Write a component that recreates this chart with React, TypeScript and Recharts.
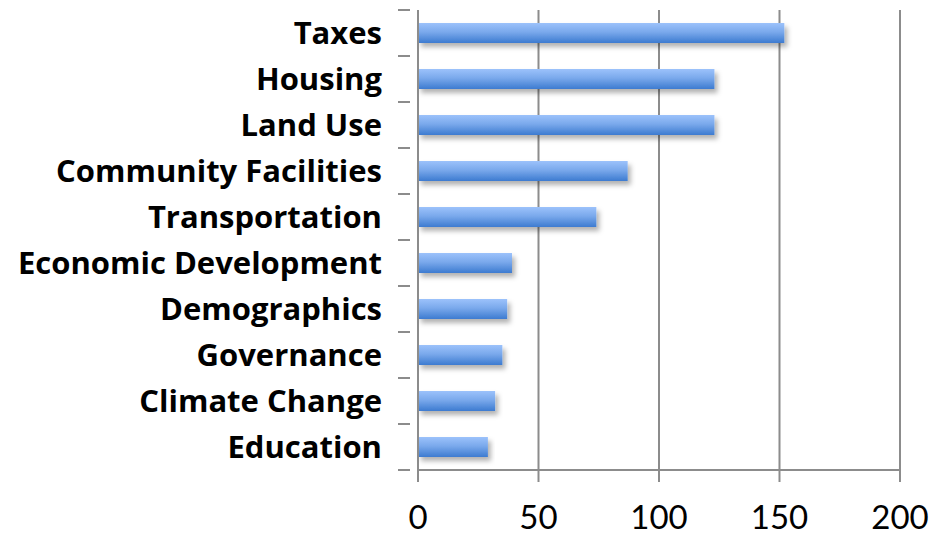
import React from 'react';
import { BarChart, Bar, XAxis, YAxis, CartesianGrid } from 'recharts';

const categories = [
  'Taxes',
  'Housing',
  'Land Use',
  'Community Facilities',
  'Transportation',
  'Economic Development',
  'Demographics',
  'Governance',
  'Climate Change',
  'Education',
];
const values = [152, 123, 123, 87, 74, 39, 37, 35, 32, 29];
const xTicks = [0, 50, 100, 150, 200];

const data = categories.map((c, i) => ({ name: c, value: values[i] }));

const LABEL_FONT = '"Open Sans", Lato, sans-serif';
const NUM_FONT = 'Lato, "Open Sans", sans-serif';
const BAND = 46;

const YTick = (props: any) => {
  const { x, y, payload } = props;
  return (
    <g>
      <line x1={x - 12} x2={x} y1={y - BAND / 2} y2={y - BAND / 2} stroke="#8c8c8c" strokeWidth={2} />
      <line x1={x - 12} x2={x} y1={y + BAND / 2} y2={y + BAND / 2} stroke="#8c8c8c" strokeWidth={2} />
      <text x={x - 28} y={y} dy="0.36em" textAnchor="end" fontFamily={LABEL_FONT} fontWeight={700} fontSize={31} fill="#000">
        {payload.value}
      </text>
    </g>
  );
};

export default function App() {
  return (
    <div style={{ position: 'absolute', left: 0, top: 0, width: 931, height: 533, background: '#fff' }}>
      <BarChart
        width={931}
        height={533}
        data={data}
        layout="vertical"
        margin={{ top: 10, right: 31, bottom: 0, left: 0 }}
        barSize={20}
      >
        <defs>
          <linearGradient id="barGrad" x1="0" y1="0" x2="0" y2="1">
            <stop offset="0%" stopColor="#9cc2fb" />
            <stop offset="45%" stopColor="#7aa9ec" />
            <stop offset="100%" stopColor="#3d7bd0" />
          </linearGradient>
          <filter id="shadow" x="-5%" y="-20%" width="115%" height="180%">
            <feDropShadow dx="3" dy="4" stdDeviation="2.5" floodColor="#000" floodOpacity="0.3" />
          </filter>
        </defs>
        <CartesianGrid horizontal={false} vertical stroke="#8c8c8c" strokeWidth={2} />
        <XAxis
          type="number"
          domain={[0, 200]}
          ticks={xTicks}
          interval={0}
          tickSize={12}
          tickMargin={24}
          axisLine={{ stroke: '#8c8c8c', strokeWidth: 2 }}
          tickLine={{ stroke: '#8c8c8c', strokeWidth: 2 }}
          tick={{ fill: '#000', fontSize: 33, fontFamily: NUM_FONT }}
          height={63}
        />
        <YAxis
          type="category"
          dataKey="name"
          width={418}
          interval={0}
          tickLine={false}
          axisLine={{ stroke: '#8c8c8c', strokeWidth: 2 }}
          tick={<YTick />}
        />
        <Bar dataKey="value" fill="url(#barGrad)" filter="url(#shadow)" isAnimationActive={false} />
      </BarChart>
    </div>
  );
}
